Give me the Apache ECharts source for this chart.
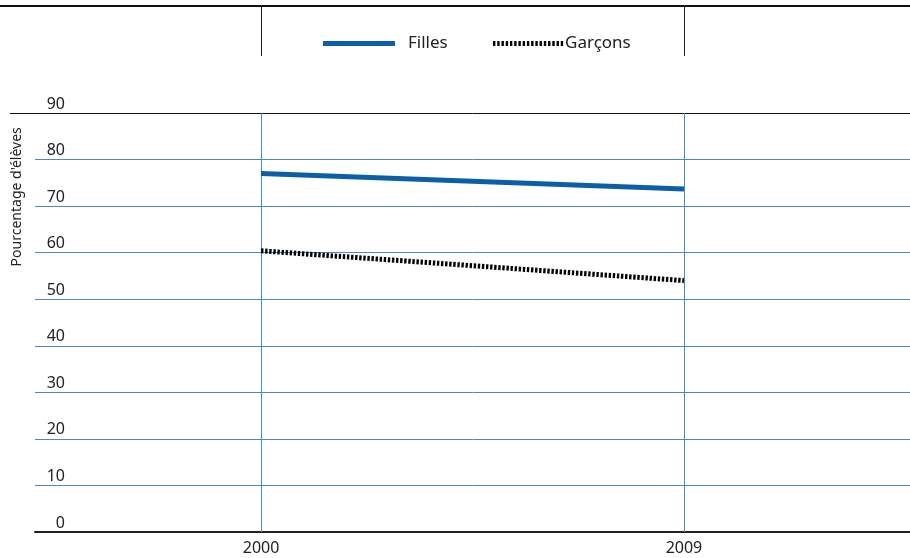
<!DOCTYPE html>
<html>
<head>
<meta charset="utf-8">
<script src="https://cdn.jsdelivr.net/npm/echarts@6/dist/echarts.min.js"></script>
<style>
  html, body { margin: 0; padding: 0; background: #fff; }
  #chart { width: 910px; height: 558px; }
</style>
</head>
<body>
<div id="chart"></div>
<script>
// Share of pupils (%) by year
const years = [2000, 2009];
const filles = [77.0, 73.7];
const garcons = [60.4, 54.0];
const yTicks = [0, 10, 20, 30, 40, 50, 60, 70, 80, 90];

const BLUE = '#0a5fa8';
const GRID_BLUE = '#4c88c6';
const FONT = '"Noto Sans", "Open Sans", sans-serif';
const LEGEND_FONT = '"Liberation Sans Narrow", "Noto Sans", sans-serif';

// Legend glyph for the dotted series: a row of short vertical bars
function dashIcon(count, width, height, bar) {
  const step = width / count;
  let d = 'path://';
  for (let i = 0; i < count; i++) {
    const x = (i * step).toFixed(2);
    d += 'M' + x + ',0h' + bar + 'v' + height + 'h-' + bar + 'z';
  }
  return d;
}

const chart = echarts.init(document.getElementById('chart'), null, { renderer: 'canvas' });

const option = {
  animation: false,
  backgroundColor: '#fff',
  grid: { left: 35, right: 0, top: 113, bottom: 26, containLabel: false },
  legend: [
    {
      data: [{ name: 'Filles', icon: 'rect' }],
      left: 318, top: 30,
      itemWidth: 72, itemHeight: 5,
      textStyle: { fontFamily: LEGEND_FONT, fontSize: 17, color: '#222', padding: [0, 0, 0, 8] }
    },
    {
      data: [{ name: 'Garçons', icon: dashIcon(17, 72, 5, 2.4) }],
      left: 488, top: 30,
      itemWidth: 72, itemHeight: 5,
      textStyle: { fontFamily: LEGEND_FONT, fontSize: 17, color: '#222', padding: [0, 0, 0, -4] }
    }
  ],
  xAxis: {
    type: 'value',
    min: years[0] - 4.81,
    max: years[1] + 4.81,
    axisLine: { show: true, onZero: false, lineStyle: { color: '#222', width: 2 } },
    axisTick: { show: false },
    splitLine: { show: false },
    axisLabel: {
      customValues: years,
      formatter: v => String(v),
      fontFamily: FONT, fontSize: 16, color: '#222', margin: 8
    }
  },
  yAxis: {
    type: 'value',
    min: 0, max: 90, interval: 10,
    axisLine: { show: false },
    axisTick: { show: false },
    axisLabel: {
      formatter: v => (yTicks.indexOf(v) >= 0 ? String(v) : ''),
      fontFamily: FONT, fontSize: 16, color: '#222',
      align: 'right', verticalAlign: 'bottom',
      margin: -30, padding: [0, 0, 1, 0]
    },
    splitLine: {
      show: true,
      lineStyle: {
        color: ['rgba(0,0,0,0)', GRID_BLUE, GRID_BLUE, GRID_BLUE, GRID_BLUE, GRID_BLUE, GRID_BLUE, GRID_BLUE, GRID_BLUE, '#111'],
        width: 1
      }
    }
  },
  series: [
    {
      name: 'Filles',
      type: 'line',
      data: years.map((y, i) => [y, filles[i]]),
      symbol: 'none',
      lineStyle: { color: BLUE, width: 5 },
      itemStyle: { color: BLUE },
      z: 5,
      markLine: {
        silent: true,
        symbol: 'none',
        label: { show: false },
        lineStyle: { color: GRID_BLUE, width: 1, type: 'solid' },
        data: years.map(y => ({ xAxis: y }))
      }
    },
    {
      name: 'Garçons',
      type: 'line',
      data: years.map((y, i) => [y, garcons[i]]),
      symbol: 'none',
      lineStyle: { color: '#000', width: 5, type: [2.4, 1.7] },
      itemStyle: { color: '#000' },
      z: 5
    }
  ]
};

chart.setOption(option);

// Header frame, the extended top rule and the rotated axis title
const x0 = chart.convertToPixel({ xAxisIndex: 0 }, years[0]);
const x1 = chart.convertToPixel({ xAxisIndex: 0 }, years[1]);
const yTop = chart.convertToPixel({ yAxisIndex: 0 }, 90);
const yMid = chart.convertToPixel({ yAxisIndex: 0 }, 72);

chart.setOption({
  graphic: [
    { type: 'line', shape: { x1: 0, y1: 6, x2: 910, y2: 6 }, style: { stroke: '#111', lineWidth: 2 } },
    { type: 'line', shape: { x1: Math.round(x0) + 0.5, y1: 6, x2: Math.round(x0) + 0.5, y2: 56 }, style: { stroke: '#222', lineWidth: 1 } },
    { type: 'line', shape: { x1: Math.round(x1) + 0.5, y1: 6, x2: Math.round(x1) + 0.5, y2: 56 }, style: { stroke: '#222', lineWidth: 1 } },
    { type: 'line', shape: { x1: 10, y1: Math.round(yTop) + 0.5, x2: 36, y2: Math.round(yTop) + 0.5 }, style: { stroke: '#111', lineWidth: 1 } },
    {
      type: 'text',
      x: 17, y: yMid,
      rotation: Math.PI / 2,
      style: {
        text: "Pourcentage d'élèves",
        fontFamily: FONT, fontSize: 14, fill: '#222',
        align: 'center', verticalAlign: 'middle'
      }
    }
  ]
});
</script>
</body>
</html>
